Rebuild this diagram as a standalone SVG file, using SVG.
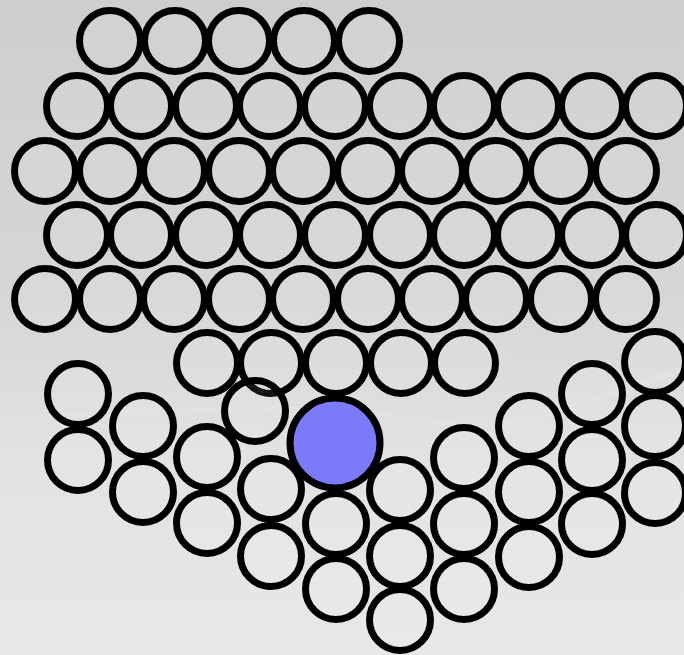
<svg xmlns="http://www.w3.org/2000/svg" width="684" height="655" viewBox="0 0 684 655">
<defs>
<linearGradient id="bg" x1="0" y1="0" x2="0" y2="1">
<stop offset="0" stop-color="#cecece"/>
<stop offset="0.45" stop-color="#d6d6d6"/>
<stop offset="0.7" stop-color="#e2e2e2"/>
<stop offset="1" stop-color="#e8e8e8"/>
</linearGradient>
<style>
.c{fill:#ffffff;fill-opacity:0.08;stroke:#000;stroke-width:7}
.b{fill:#7b7bfa;stroke:#000;stroke-width:7}
</style>
</defs>
<rect width="684" height="655" fill="url(#bg)"/>
<path d="M0,420 C150,410 300,400 420,420 S600,390 684,370" fill="none" stroke="#e6e6e6" stroke-width="6" opacity="0.35"/>
<g id="nodes">
<g id="r1">
<circle class="c" cx="110" cy="41" r="30.5"/><circle class="c" cx="175" cy="41" r="30.5"/><circle class="c" cx="239" cy="41" r="30.5"/><circle class="c" cx="304" cy="41" r="30.5"/><circle class="c" cx="369" cy="41" r="30.5"/>
</g>
<g id="r2">
<circle class="c" cx="77" cy="106" r="30.5"/><circle class="c" cx="141" cy="106" r="30.5"/><circle class="c" cx="206" cy="106" r="30.5"/><circle class="c" cx="270" cy="106" r="30.5"/><circle class="c" cx="335" cy="106" r="30.5"/><circle class="c" cx="400" cy="106" r="30.5"/><circle class="c" cx="464" cy="106" r="30.5"/><circle class="c" cx="528" cy="106" r="30.5"/><circle class="c" cx="592" cy="106" r="30.5"/><circle class="c" cx="656" cy="106" r="30.5"/>
</g>
<g id="r3">
<circle class="c" cx="45" cy="171" r="30.5"/><circle class="c" cx="110" cy="171" r="30.5"/><circle class="c" cx="174" cy="171" r="30.5"/><circle class="c" cx="239" cy="171" r="30.5"/><circle class="c" cx="303" cy="171" r="30.5"/><circle class="c" cx="368" cy="171" r="30.5"/><circle class="c" cx="432" cy="171" r="30.5"/><circle class="c" cx="496" cy="171" r="30.5"/><circle class="c" cx="561" cy="171" r="30.5"/><circle class="c" cx="626" cy="171" r="30.5"/>
</g>
<g id="r4">
<circle class="c" cx="77" cy="235" r="30.5"/><circle class="c" cx="141" cy="235" r="30.5"/><circle class="c" cx="206" cy="235" r="30.5"/><circle class="c" cx="270" cy="235" r="30.5"/><circle class="c" cx="335" cy="235" r="30.5"/><circle class="c" cx="400" cy="235" r="30.5"/><circle class="c" cx="464" cy="235" r="30.5"/><circle class="c" cx="528" cy="235" r="30.5"/><circle class="c" cx="592" cy="235" r="30.5"/><circle class="c" cx="656" cy="235" r="30.5"/>
</g>
<g id="r5">
<circle class="c" cx="45" cy="299" r="30.5"/><circle class="c" cx="110" cy="299" r="30.5"/><circle class="c" cx="174" cy="299" r="30.5"/><circle class="c" cx="239" cy="299" r="30.5"/><circle class="c" cx="303" cy="299" r="30.5"/><circle class="c" cx="368" cy="299" r="30.5"/><circle class="c" cx="432" cy="299" r="30.5"/><circle class="c" cx="496" cy="299" r="30.5"/><circle class="c" cx="561" cy="299" r="30.5"/><circle class="c" cx="626" cy="299" r="30.5"/>
</g>
<g id="r6">
<circle class="c" cx="207" cy="363" r="30.5"/><circle class="c" cx="271" cy="363" r="30.5"/><circle class="c" cx="336" cy="363" r="30.5"/><circle class="c" cx="401" cy="363" r="30.5"/><circle class="c" cx="465" cy="363" r="30.5"/><circle class="c" cx="655" cy="362" r="30.5"/>
</g>
<g id="left-arm">
<circle class="c" cx="78" cy="394" r="30.5"/><circle class="c" cx="78" cy="460" r="30.5"/>
<circle class="c" cx="143" cy="426" r="30.5"/><circle class="c" cx="143" cy="492" r="30.5"/>
<circle class="c" cx="207" cy="457" r="30.5"/><circle class="c" cx="207" cy="523" r="30.5"/>
<circle class="c" cx="255" cy="411" r="30.5"/>
<circle class="c" cx="271" cy="489" r="30.5"/><circle class="c" cx="271" cy="556" r="30.5"/>
<circle class="c" cx="336" cy="524" r="30.5"/><circle class="c" cx="336" cy="589" r="30.5"/>
</g>
<g id="right-arm">
<circle class="c" cx="400" cy="490" r="30.5"/><circle class="c" cx="400" cy="556" r="30.5"/><circle class="c" cx="400" cy="620" r="30.5"/>
<circle class="c" cx="464" cy="458" r="30.5"/><circle class="c" cx="464" cy="524" r="30.5"/><circle class="c" cx="464" cy="589" r="30.5"/>
<circle class="c" cx="529" cy="426" r="30.5"/><circle class="c" cx="529" cy="492" r="30.5"/><circle class="c" cx="529" cy="557" r="30.5"/>
<circle class="c" cx="592" cy="394" r="30.5"/><circle class="c" cx="592" cy="460" r="30.5"/><circle class="c" cx="592" cy="524" r="30.5"/>
<circle class="c" cx="655" cy="426" r="30.5"/><circle class="c" cx="655" cy="493" r="30.5"/>
</g>
<g id="blue">
<circle class="b" cx="335" cy="443" r="45"/>
</g>
</g>
<g id="connectors"/>
</svg>
